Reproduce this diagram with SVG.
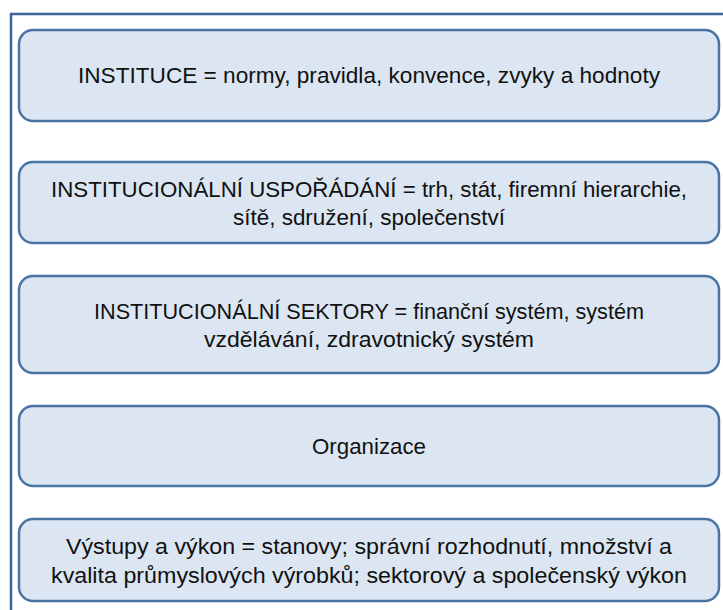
<svg xmlns="http://www.w3.org/2000/svg" width="723" height="610" viewBox="0 0 723 610">
<style>
.frame{fill:#fff;stroke:#3E6698;stroke-width:2.5}
.box{fill:#DCE6F2;stroke:#4A74A4;stroke-width:2.5}
.t{font-family:"Liberation Sans","Noto Sans",sans-serif;font-size:22.5px;fill:#111;text-anchor:middle;dominant-baseline:central}
</style>
<rect width="723" height="610" fill="#fff"/>
<rect class="frame" x="11" y="14" width="760" height="650"/>
<g id="node-instituce">
<rect class="box" x="19" y="30" width="700" height="91" rx="14"/>
<text class="t" x="369" y="75" textLength="582" lengthAdjust="spacingAndGlyphs">INSTITUCE = normy, pravidla, konvence, zvyky a hodnoty</text>
</g>
<g id="node-usporadani">
<rect class="box" x="19" y="162" width="700" height="81" rx="14"/>
<text class="t" x="369" y="189" textLength="636" lengthAdjust="spacingAndGlyphs">INSTITUCIONÁLNÍ USPOŘÁDÁNÍ = trh, stát, firemní hierarchie,</text>
<text class="t" x="369" y="217" textLength="272" lengthAdjust="spacingAndGlyphs">sítě, sdružení, společenství</text>
</g>
<g id="node-sektory">
<rect class="box" x="19" y="276" width="700" height="97" rx="14"/>
<text class="t" x="369" y="311" textLength="550" lengthAdjust="spacingAndGlyphs">INSTITUCIONÁLNÍ SEKTORY = finanční systém, systém</text>
<text class="t" x="369" y="339" textLength="330" lengthAdjust="spacingAndGlyphs">vzdělávání, zdravotnický systém</text>
</g>
<g id="node-organizace">
<rect class="box" x="19" y="406" width="700" height="80" rx="14"/>
<text class="t" x="369" y="446" textLength="114" lengthAdjust="spacingAndGlyphs">Organizace</text>
</g>
<g id="node-vystupy">
<rect class="box" x="19" y="519" width="700" height="82" rx="14"/>
<text class="t" x="369" y="546" textLength="606" lengthAdjust="spacingAndGlyphs">Výstupy a výkon = stanovy; správní rozhodnutí, množství a</text>
<text class="t" x="369" y="575" textLength="636" lengthAdjust="spacingAndGlyphs">kvalita průmyslových výrobků; sektorový a společenský výkon</text>
</g>
<g id="connectors"></g>
</svg>
